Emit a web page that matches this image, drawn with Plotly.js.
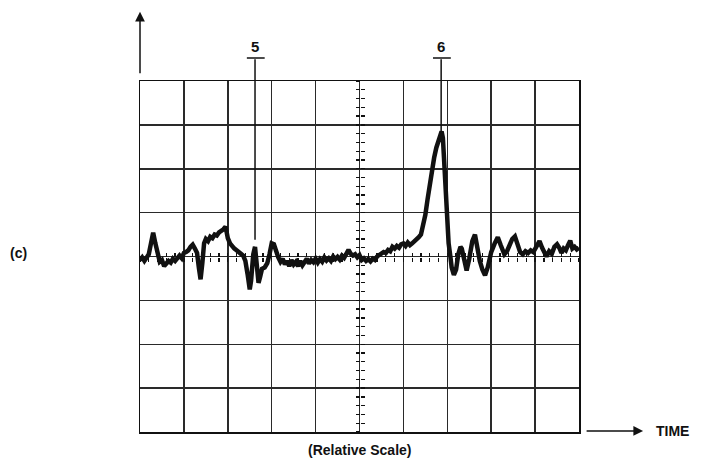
<!DOCTYPE html>
<html>
<head>
<meta charset="utf-8">
<script src="https://cdn.plot.ly/plotly-3.0.1.min.js"></script>
<style>
html,body{margin:0;padding:0;background:#fff;}
#chart{width:705px;height:458px;}
</style>
</head>
<body>
<div id="chart"></div>
<script>
// Time in grid divisions (0..10), amplitude in divisions (-4..4)
const time = [0.00,0.05,0.10,0.15,0.20,0.25,0.30,0.35,0.40,0.45,0.50,0.55,0.60,0.65,0.70,0.75,0.80,0.85,0.90,0.95,
  1.00,1.05,1.10,1.15,1.20,1.25,1.30,1.34,1.38,1.42,1.46,1.50,1.55,1.60,1.65,1.70,1.75,1.80,1.85,1.90,1.95,
  2.00,2.05,2.10,2.15,2.20,2.25,2.30,2.35,2.40,2.45,2.50,2.53,2.58,2.62,2.66,2.70,2.74,2.78,2.84,2.90,2.95,
  3.00,3.05,3.10,3.15,3.20,3.25,3.30,3.35,3.40,3.45,3.50,3.55,3.60,3.65,3.70,3.75,3.80,3.85,3.90,3.95,
  4.00,4.05,4.10,4.15,4.20,4.25,4.30,4.35,4.40,4.45,4.50,4.55,4.60,4.65,4.70,4.75,4.80,4.85,4.90,4.95,
  5.00,5.05,5.10,5.15,5.20,5.25,5.30,5.35,5.40,5.45,5.50,5.55,5.60,5.65,5.70,5.75,5.80,5.85,5.90,5.95,
  6.00,6.05,6.10,6.15,6.20,6.25,6.30,6.35,6.40,6.45,6.50,6.55,6.60,6.65,6.70,6.75,6.80,6.84,6.87,6.90,6.93,6.96,6.99,
  7.03,7.07,7.10,7.15,7.20,7.25,7.30,7.33,7.38,7.44,7.50,7.57,7.63,7.68,7.74,7.80,7.86,7.92,
  8.00,8.08,8.15,8.22,8.30,8.36,8.42,8.48,8.54,8.60,8.66,8.72,8.78,8.84,8.90,8.96,
  9.04,9.10,9.16,9.22,9.26,9.32,9.38,9.44,9.50,9.55,9.60,9.65,9.70,9.75,9.80,9.85,9.90,9.95,10.0];
const amplitude = [-0.08,-0.02,-0.10,-0.03,0.05,0.30,0.54,0.30,0.02,-0.12,-0.08,-0.22,-0.16,-0.10,-0.14,-0.05,-0.10,-0.02,0.02,-0.04,
  0.08,0.10,0.14,0.22,0.27,0.18,0.08,-0.25,-0.52,-0.15,0.30,0.40,0.35,0.45,0.42,0.50,0.48,0.55,0.58,0.62,0.68,
  0.42,0.30,0.22,0.18,0.14,0.08,0.06,0.02,-0.10,-0.40,-0.75,-0.55,0.05,0.22,-0.10,-0.60,-0.45,-0.28,-0.25,-0.15,0.05,
  0.30,0.28,0.08,-0.02,-0.12,-0.05,-0.18,-0.10,-0.22,-0.08,-0.18,-0.12,-0.22,-0.10,-0.20,-0.14,-0.05,-0.16,-0.08,-0.13,
  -0.05,-0.14,-0.06,-0.12,-0.02,-0.09,-0.04,-0.10,0.00,-0.06,-0.01,-0.07,0.02,-0.03,0.05,0.15,0.06,0.02,0.05,-0.02,
  0.03,-0.08,-0.04,-0.10,-0.06,-0.11,-0.05,-0.08,0.00,0.03,0.06,0.10,0.08,0.15,0.12,0.22,0.18,0.24,0.20,0.28,
  0.30,0.24,0.32,0.26,0.30,0.34,0.38,0.44,0.50,0.68,0.95,1.30,1.65,1.95,2.25,2.48,2.65,2.80,2.85,2.70,2.20,1.40,0.80,
  0.30,0.00,-0.25,-0.42,-0.30,0.05,0.22,0.18,-0.10,-0.32,-0.05,0.35,0.50,0.20,-0.10,-0.30,-0.43,-0.25,
  0.10,0.30,0.44,0.25,0.05,0.12,0.28,0.40,0.46,0.28,0.10,0.05,0.12,0.08,0.14,0.10,
  0.22,0.35,0.20,0.04,0.00,0.12,0.06,0.22,0.28,0.20,0.08,0.18,0.14,0.26,0.36,0.18,0.22,0.16,0.20];

// Peak markers
const peakLabels = ['5','6'];
const peakTime = [2.62, 6.86];
const peakTop = 4.53;
const peakBottom = [0.38, 2.85];
const barHalf = 0.22;

const traces = [
  {x: time, y: amplitude, mode: 'lines', type: 'scatter',
   line: {color: '#111', width: 4.5}, hoverinfo: 'skip'},
  // empty traces so the centre-tick axes are drawn
  {x: [null], y: [null], xaxis: 'x2', yaxis: 'y2', type: 'scatter', mode: 'lines', hoverinfo: 'skip'},
  {x: [null], y: [null], xaxis: 'x3', yaxis: 'y3', type: 'scatter', mode: 'lines', hoverinfo: 'skip'}
];

const font = {family: 'Liberation Sans, Arial, sans-serif', color: '#111'};
const annotations = [];
const barPaperY = 1.0655;
peakTime.forEach((t, i) => {
  // vertical stem from the bar down to the peak
  annotations.push({x: t, xref: 'x', y: peakBottom[i], yref: 'y', ax: t, ay: peakTop, axref: 'x', ayref: 'y',
    text: '', showarrow: true, arrowhead: 0, arrowwidth: 1.5, arrowcolor: '#111', standoff: 0, startstandoff: 0});
  // cross bar
  annotations.push({x: t + barHalf, xref: 'x', y: barPaperY, yref: 'paper', ax: t - barHalf, ay: 0, axref: 'x', ayref: 'pixel',
    text: '', showarrow: true, arrowhead: 0, arrowwidth: 1.5, arrowcolor: '#111', standoff: 0, startstandoff: 0});
  annotations.push({x: t, xref: 'x', y: 1.097, yref: 'paper', text: peakLabels[i], showarrow: false,
    font: Object.assign({size: 15, weight: 'bold'}, font), xanchor: 'center', yanchor: 'middle'});
});
annotations.push({
  x: 0, xref: 'paper', y: 1.197, yref: 'paper', ax: 0, ay: 63, axref: 'pixel', ayref: 'pixel',
  text: '', showarrow: true, arrowhead: 2, arrowsize: 1.3, arrowwidth: 1.5, arrowcolor: '#111'
});
annotations.push({
  x: 1.146, xref: 'paper', y: 0.003, yref: 'paper', ax: -58, ay: 0, axref: 'pixel', ayref: 'pixel',
  text: '', showarrow: true, arrowhead: 2, arrowsize: 1.3, arrowwidth: 1.5, arrowcolor: '#111'
});
annotations.push({
  x: 1.171, xref: 'paper', y: 0.003, yref: 'paper', text: 'TIME', showarrow: false,
  xanchor: 'left', yanchor: 'middle', font: Object.assign({size: 14, weight: 'bold'}, font)
});
annotations.push({
  x: 0.5, xref: 'paper', y: -0.052, yref: 'paper', text: '(Relative Scale)', showarrow: false,
  xanchor: 'center', yanchor: 'middle', font: Object.assign({size: 14, weight: 'bold'}, font)
});
annotations.push({
  x: -0.30, xref: 'paper', y: 0.51, yref: 'paper', text: '(c)', showarrow: false,
  xanchor: 'left', yanchor: 'middle', font: Object.assign({size: 14, weight: 'bold'}, font)
});

const gridAxis = {
  dtick: 1, tick0: 0, showgrid: true, gridcolor: '#2a2a2a', gridwidth: 1.5,
  showline: true, mirror: true, linecolor: '#111', linewidth: 1.5, zeroline: false,
  showticklabels: false, ticks: '', fixedrange: true
};
const centerTick = (letter, side, range) => ({
  overlaying: letter, anchor: 'free', position: 0.5, range: range, dtick: 0.2, tick0: 0,
  ticks: side, ticklen: 4, tickwidth: 1.3, tickcolor: '#111', showticklabels: false,
  showgrid: false, showline: false, zeroline: false, fixedrange: true
});

const layout = {
  width: 705, height: 458,
  margin: {l: 140, r: 126, t: 81, b: 26},
  paper_bgcolor: '#fff', plot_bgcolor: '#fff', showlegend: false,
  xaxis: Object.assign({}, gridAxis, {range: [0, 10]}),
  yaxis: Object.assign({}, gridAxis, {range: [-4, 4]}),
  xaxis2: centerTick('x', 'outside', [0, 10]),
  xaxis3: centerTick('x', 'inside', [0, 10]),
  yaxis2: centerTick('y', 'outside', [-4, 4]),
  yaxis3: centerTick('y', 'inside', [-4, 4]),
  annotations: annotations
};

Plotly.newPlot('chart', traces, layout, {displayModeBar: false, staticPlot: true});
</script>
</body>
</html>
